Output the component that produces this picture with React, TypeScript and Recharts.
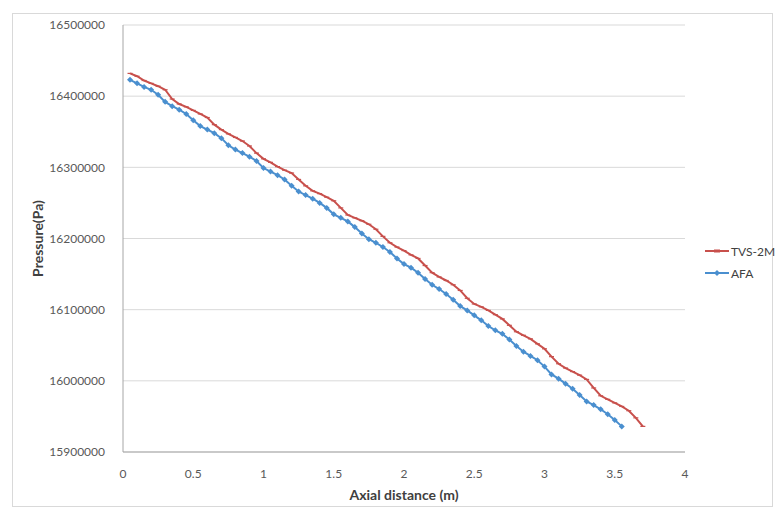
import React from 'react'
import { LineChart, Line, XAxis, YAxis, CartesianGrid } from 'recharts'

// axial distance (m) for each series
const tvsX = [
  0.05, 0.1, 0.15, 0.2, 0.25, 0.3, 0.35, 0.4, 0.45, 0.5, 0.55, 0.6, 0.65, 0.7, 0.75, 0.8, 0.85, 0.9, 0.95, 1.0,
  1.05, 1.1, 1.15, 1.2, 1.25, 1.3, 1.35, 1.4, 1.45, 1.5, 1.55, 1.6, 1.65, 1.7, 1.75, 1.8, 1.85, 1.9, 1.95, 2.0,
  2.05, 2.1, 2.15, 2.2, 2.25, 2.3, 2.35, 2.4, 2.45, 2.5, 2.55, 2.6, 2.65, 2.7, 2.75, 2.8, 2.85, 2.9, 2.95, 3.0,
  3.05, 3.1, 3.15, 3.2, 3.25, 3.3, 3.35, 3.4, 3.45, 3.5, 3.55, 3.6, 3.65, 3.7,
]
const tvsP = [
  16432000, 16428000, 16422000, 16418000, 16414000, 16409000, 16396000, 16389000, 16385000, 16380000,
  16375000, 16370000, 16360000, 16353000, 16347000, 16342000, 16337000, 16330000, 16320000, 16312000,
  16307000, 16301000, 16296000, 16292000, 16283000, 16274000, 16267000, 16263000, 16258000, 16253000,
  16243000, 16233000, 16229000, 16225000, 16220000, 16213000, 16203000, 16194000, 16188000, 16183000,
  16177000, 16172000, 16162000, 16152000, 16146000, 16141000, 16135000, 16127000, 16116000, 16108000,
  16104000, 16099000, 16093000, 16087000, 16078000, 16069000, 16064000, 16059000, 16052000, 16045000,
  16034000, 16024000, 16018000, 16013000, 16008000, 16002000, 15990000, 15979000, 15974000, 15969000,
  15964000, 15958000, 15948000, 15936000,
]

const afaX = [
  0.05, 0.1, 0.15, 0.2, 0.25, 0.3, 0.35, 0.4, 0.45, 0.5, 0.55, 0.6, 0.65, 0.7, 0.75, 0.8, 0.85, 0.9, 0.95, 1.0,
  1.05, 1.1, 1.15, 1.2, 1.25, 1.3, 1.35, 1.4, 1.45, 1.5, 1.55, 1.6, 1.65, 1.7, 1.75, 1.8, 1.85, 1.9, 1.95, 2.0,
  2.05, 2.1, 2.15, 2.2, 2.25, 2.3, 2.35, 2.4, 2.45, 2.5, 2.55, 2.6, 2.65, 2.7, 2.75, 2.8, 2.85, 2.9, 2.95, 3.0,
  3.05, 3.1, 3.15, 3.2, 3.25, 3.3, 3.35, 3.4, 3.45, 3.5, 3.55,
]
const afaP = [
  16423000, 16418000, 16413000, 16409000, 16402000, 16392000, 16386000, 16381000, 16375000, 16366000,
  16358000, 16353000, 16348000, 16341000, 16331000, 16325000, 16320000, 16315000, 16309000, 16299000,
  16294000, 16289000, 16283000, 16274000, 16266000, 16261000, 16256000, 16250000, 16243000, 16234000,
  16229000, 16224000, 16216000, 16207000, 16199000, 16194000, 16188000, 16181000, 16172000, 16164000,
  16159000, 16152000, 16143000, 16135000, 16129000, 16122000, 16114000, 16105000, 16099000, 16092000,
  16085000, 16077000, 16071000, 16066000, 16058000, 16049000, 16041000, 16035000, 16029000, 16020000,
  16009000, 16003000, 15996000, 15989000, 15980000, 15971000, 15966000, 15960000, 15953000, 15945000,
  15936000,
]

const xTicks = [0, 0.5, 1, 1.5, 2, 2.5, 3, 3.5, 4]
const yTicks = [15900000, 16000000, 16100000, 16200000, 16300000, 16400000, 16500000]

const RED = '#c8504c'
const BLUE = '#4a8fcf'
const FONT = 'Lato, "Open Sans", sans-serif'

const tvsData = tvsX.map((x, i) => ({ x, p: tvsP[i] }))
const afaData = afaX.map((x, i) => ({ x, p: afaP[i] }))

const DashDot = (props: any) => {
  const { cx, cy } = props
  if (cx == null || cy == null) return null
  return <line x1={cx - 2.5} y1={cy} x2={cx + 2.5} y2={cy} stroke={RED} strokeWidth={1.2} />
}

const Diamond = (props: any) => {
  const { cx, cy } = props
  if (cx == null || cy == null) return null
  const r = 3
  return <path d={`M${cx},${cy - r}L${cx + r},${cy}L${cx},${cy + r}L${cx - r},${cy}Z`} fill={BLUE} />
}

const legendItems = [
  { name: 'TVS-2M', color: RED, diamond: false },
  { name: 'AFA', color: BLUE, diamond: true },
]

const LegendBox = () => (
  <div style={{ position: 'absolute', left: 705, top: 240, fontFamily: FONT, fontSize: 12, color: '#404040' }}>
    {legendItems.map((it) => (
      <div key={it.name} style={{ display: 'flex', alignItems: 'center', height: 22 }}>
        <svg width={24} height={10}>
          <line x1={0} y1={5} x2={24} y2={5} stroke={it.color} strokeWidth={2} />
          {it.diamond ? (
            <path d="M12,2L15,5L12,8L9,5Z" fill={it.color} />
          ) : (
            <line x1={9} y1={5} x2={15} y2={5} stroke={it.color} strokeWidth={3} />
          )}
        </svg>
        <span style={{ marginLeft: 2 }}>{it.name}</span>
      </div>
    ))}
  </div>
)

export default function App() {
  return (
    <div style={{ position: 'absolute', left: 0, top: 0, width: 777, height: 512, background: '#fff' }}>
      <div
        style={{
          position: 'absolute',
          left: 12,
          top: 13,
          width: 761,
          height: 494,
          border: '1px solid #d9d9d9',
          boxSizing: 'border-box',
        }}
      />
      <LineChart
        width={777}
        height={512}
        margin={{ top: 25, right: 92, bottom: 0, left: 0 }}
        style={{ position: 'absolute', left: 0, top: 0 }}
      >
        <CartesianGrid horizontal vertical={false} stroke="#d9d9d9" />
        <XAxis
          dataKey="x"
          type="number"
          domain={[0, 4]}
          ticks={xTicks}
          allowDuplicatedCategory={false}
          height={60}
          stroke="#a6a6a6"
          tickLine={false}
          tickMargin={11}
          tick={{ fill: '#595959', fontSize: 12, fontFamily: FONT }}
          label={{
            value: 'Axial distance (m)',
            position: 'insideBottom',
            offset: 12,
            style: { fill: '#404040', fontSize: 14, fontWeight: 700, fontFamily: FONT },
          }}
        />
        <YAxis
          dataKey="p"
          type="number"
          domain={[15900000, 16500000]}
          ticks={yTicks}
          width={123}
          stroke="#a6a6a6"
          tickLine={false}
          tickMargin={12}
          tick={{ fill: '#595959', fontSize: 12, fontFamily: FONT }}
          label={{
            value: 'Pressure(Pa)',
            angle: -90,
            position: 'insideLeft',
            offset: 38,
            style: { textAnchor: 'middle', fill: '#404040', fontSize: 14, fontWeight: 700, fontFamily: FONT },
          }}
        />
        <Line
          data={tvsData}
          dataKey="p"
          name="TVS-2M"
          stroke={RED}
          strokeWidth={2}
          dot={<DashDot />}
          activeDot={false}
          isAnimationActive={false}
        />
        <Line
          data={afaData}
          dataKey="p"
          name="AFA"
          stroke={BLUE}
          strokeWidth={2}
          dot={<Diamond />}
          activeDot={false}
          isAnimationActive={false}
        />
      </LineChart>
      <LegendBox />
    </div>
  )
}
